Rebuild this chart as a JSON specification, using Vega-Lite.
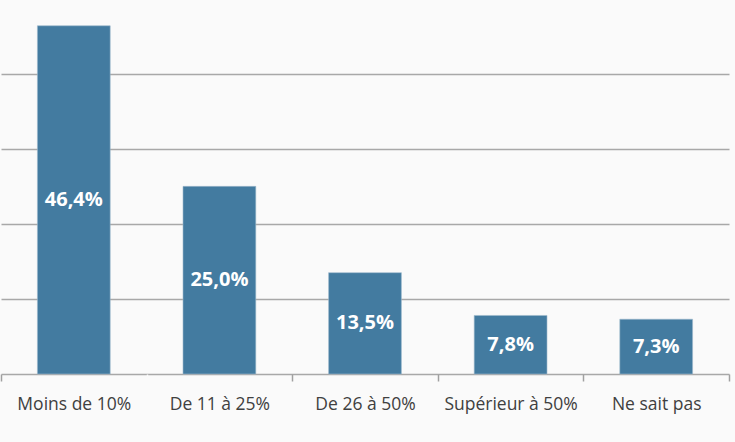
{
  "$schema": "https://vega.github.io/schema/vega-lite/v6.json",
  "width": 722,
  "height": 373,
  "autosize": {"type": "none"},
  "padding": {"left": 7, "top": 1, "right": 6, "bottom": 68},
  "background": "#fafafa",
  "config": {"view": {"stroke": null}, "font": "Open Sans"},
  "data": {
    "values": [
      {"categorie": "Moins de 10%", "valeur": 46.4, "etiquette": "46,4%"},
      {"categorie": "De 11 à 25%", "valeur": 25.0, "etiquette": "25,0%"},
      {"categorie": "De 26 à 50%", "valeur": 13.5, "etiquette": "13,5%"},
      {"categorie": "Supérieur à 50%", "valeur": 7.8, "etiquette": "7,8%"},
      {"categorie": "Ne sait pas", "valeur": 7.3, "etiquette": "7,3%"}
    ]
  },
  "encoding": {
    "x": {
      "field": "categorie",
      "type": "nominal",
      "sort": null,
      "scale": {"paddingInner": 0, "paddingOuter": 0, "range": [-6, 722]},
      "axis": {
        "title": null,
        "labelAngle": 0,
        "labelFontSize": 17.5,
        "labelColor": "#404040",
        "labelPadding": 14,
        "tickBand": "extent",
        "tickSize": 7,
        "tickColor": {"condition": {"test": "datum.index === 0 && !datum.extra", "value": "#fafafa"}, "value": "#a0a0a0"},
        "tickWidth": 1.5,
        "domain": false,
        "labelBaseline": "top"
      }
    }
  },
  "layer": [
    {
      "mark": {"type": "bar", "color": "#437ba0", "stroke": "#9fbacd", "strokeWidth": 0.6, "width": {"band": 0.5}},
      "encoding": {
        "y": {
          "field": "valeur",
          "type": "quantitative",
          "scale": {"domain": [0, 49.7], "nice": false},
          "axis": {
            "title": null,
            "labels": false,
            "ticks": false,
            "domain": false,
            "values": [0, 10, 20, 30, 40],
            "gridColor": "#a8a8a8",
            "gridWidth": 1.5
          }
        }
      }
    },
    {
      "transform": [{"calculate": "datum.valeur / 2", "as": "milieu"}],
      "mark": {"type": "text", "color": "white", "fontWeight": "bold", "fontSize": 20, "baseline": "middle", "align": "center"},
      "encoding": {
        "y": {"field": "milieu", "type": "quantitative"},
        "text": {"field": "etiquette"}
      }
    }
  ]
}
